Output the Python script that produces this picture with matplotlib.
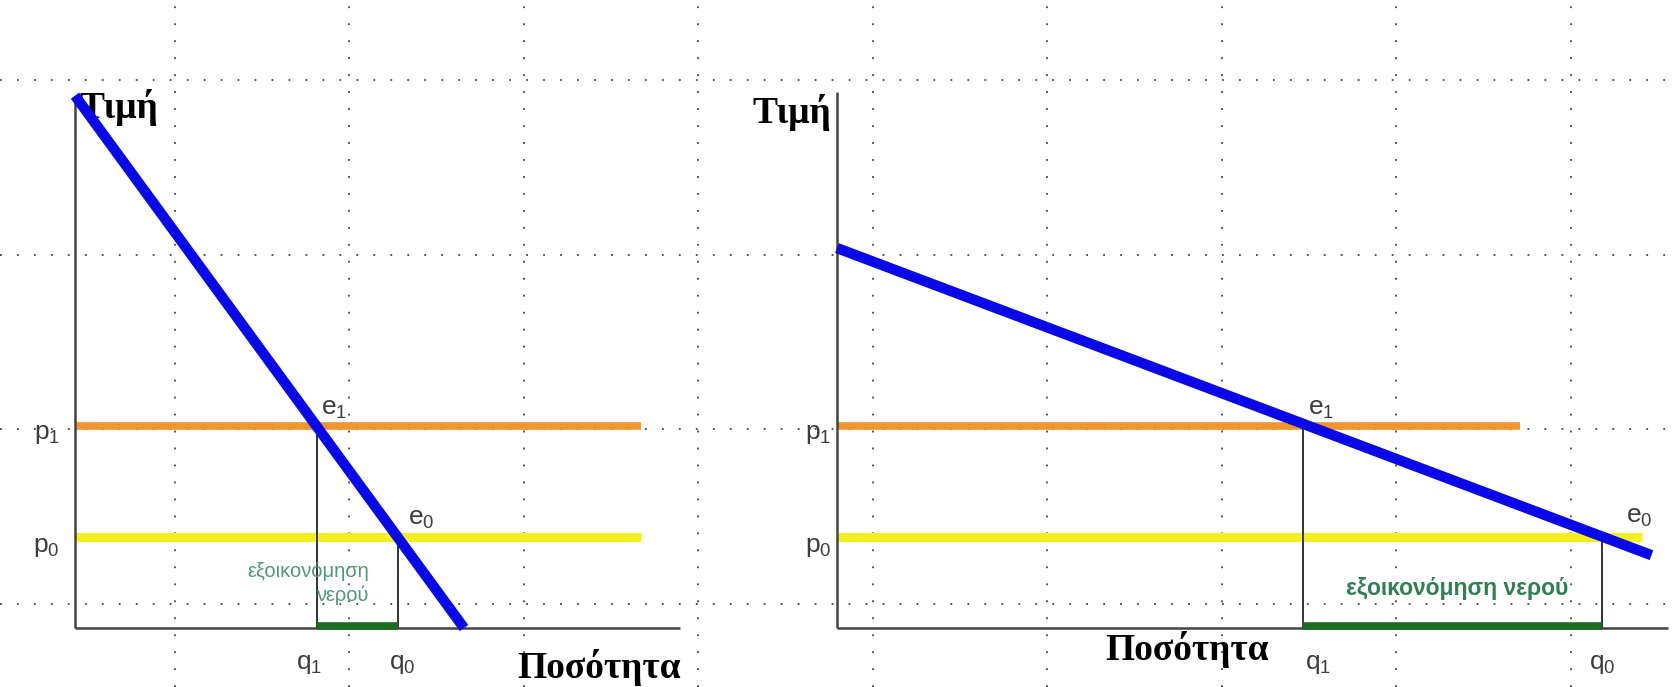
import matplotlib
matplotlib.use("Agg")
import matplotlib.pyplot as plt
import numpy as np

# Figure geometry (pixels at dpi 100)
FW, FH, DPI = 1673, 687, 100
U = 45.5  # pixels per data unit, same for both panels

# Shared price levels
p0 = 2.0
p1 = 4.45

# Left panel: steep (inelastic-looking) demand
left_demand_q = [0.0, 8.55]
left_demand_p = [11.7, 0.0]
left_q1, left_q0 = 5.32, 7.1
left_price_end = 12.45
left_axis_x_end, left_axis_y_top = 13.3, 11.67

# Right panel: flat (elastic) demand
right_demand_q = [0.0, 17.9]
right_demand_p = [8.35, 1.6]
right_q1, right_q0 = 10.24, 16.81
right_p1_end, right_p0_end = 15.0, 17.7
right_axis_x_end, right_axis_y_top = 18.26, 11.78

BLUE = "#0808e8"
ORANGE = "#f0952c"
YELLOW = "#f4f020"
GREEN_BAR = "#1d6b22"
AXIS = "#444444"
LABEL = "#3c3c3c"

plt.rcParams["mathtext.fontset"] = "custom"
plt.rcParams["mathtext.rm"] = "Liberation Sans"
plt.rcParams["mathtext.default"] = "regular"

SANS = "Liberation Sans"
SERIF = "Liberation Serif"

fig = plt.figure(figsize=(FW / DPI, FH / DPI), dpi=DPI)
fig.patch.set_facecolor("white")

# Background dotted grid across the whole sheet
ax_bg = fig.add_axes([0, 0, 1, 1], zorder=0)
ax_bg.set_xlim(0, FW)
ax_bg.set_ylim(FH, 0)
ax_bg.set_xticks(np.arange(175, FW, 174.5))
ax_bg.set_yticks(np.arange(80, FH, 174.5))
ax_bg.grid(True, color="#444444", linewidth=1.3, linestyle=(0, (1, 8.4)))
ax_bg.tick_params(length=0, labelbottom=False, labelleft=False)
for s in ax_bg.spines.values():
    s.set_visible(False)


def panel(ox, oy, xmax, ymax):
    ax = fig.add_axes(
        [ox / FW, (FH - oy) / FH, xmax * U / FW, ymax * U / FH], zorder=2
    )
    ax.set_xlim(0, xmax)
    ax.set_ylim(0, ymax)
    ax.patch.set_alpha(0)
    ax.axis("off")
    return ax


def draw_panel(ax, demand_q, demand_p, q1, q0, p1_end, p0_end, x_end, y_top):
    kw = dict(clip_on=False, solid_capstyle="butt")
    # axes
    ax.plot([0, 0], [0, y_top], color=AXIS, lw=1.8, zorder=3, **kw)
    ax.plot([0, x_end], [0, 0], color=AXIS, lw=1.8, zorder=3, **kw)
    # price lines
    ax.plot([0, p1_end], [p1, p1], color=ORANGE, lw=5.5, zorder=2, **kw)
    ax.plot([0, p0_end], [p0, p0], color=YELLOW, lw=6.5, zorder=2, **kw)
    # drop lines to quantity axis
    ax.plot([q1, q1], [0, p1], color="#333333", lw=1.4, zorder=3, **kw)
    ax.plot([q0, q0], [0, p0], color="#333333", lw=1.4, zorder=3, **kw)
    # water saving segment
    ax.plot([q1, q0], [0.04, 0.04], color=GREEN_BAR, lw=5.5, zorder=4, **kw)
    # demand
    ax.plot(demand_q, demand_p, color=BLUE, lw=7.5, zorder=5, **kw)


ax_l = panel(75, 628, 14, 12)
draw_panel(ax_l, left_demand_q, left_demand_p, left_q1, left_q0,
           left_price_end, left_price_end, left_axis_x_end, left_axis_y_top)

ax_r = panel(837, 628, 18.3, 12)
draw_panel(ax_r, right_demand_q, right_demand_p, right_q1, right_q0,
           right_p1_end, right_p0_end, right_axis_x_end, right_axis_y_top)

lab = dict(family=SANS, fontsize=19, color=LABEL, va="center")
serif = dict(family=SERIF, fontsize=27, fontweight="bold", va="center")

# Left labels
ax_l.text(0.1, 11.45, "Τιμή", ha="left", **serif)
ax_l.text(9.72, -0.86, "Ποσότητα", ha="left", **serif)
ax_l.text(-0.33, p1 - 0.18, "p$_1$", ha="right", **lab)
ax_l.text(-0.33, p0 - 0.22, "p$_0$", ha="right", **lab)
ax_l.text(left_q1 - 0.18, -0.79, "q$_1$", ha="center", **lab)
ax_l.text(left_q0 + 0.1, -0.79, "q$_0$", ha="center", **lab)
ax_l.text(left_q1 + 0.38, p1 + 0.36, "e$_1$", ha="center", **lab)
ax_l.text(left_q0 + 0.52, p0 + 0.39, "e$_0$", ha="center", **lab)
ax_l.text(left_q0 - 0.64, 0.99, "εξοικονόμηση\nνερού", family=SANS, fontsize=14.5,
          color="#4f9a75", ha="right", va="center", multialignment="right",
          linespacing=1.3)

# Right labels
ax_r.text(-0.13, 11.34, "Τιμή", ha="right", **serif)
ax_r.text(5.9, -0.48, "Ποσότητα", ha="left", **serif)
ax_r.text(-0.13, p1 - 0.18, "p$_1$", ha="right", **lab)
ax_r.text(-0.13, p0 - 0.22, "p$_0$", ha="right", **lab)
ax_r.text(right_q1 + 0.33, -0.79, "q$_1$", ha="center", **lab)
ax_r.text(right_q0 + 0.02, -0.79, "q$_0$", ha="center", **lab)
ax_r.text(right_q1 + 0.4, p1 + 0.36, "e$_1$", ha="center", **lab)
ax_r.text(right_q0 + 0.82, p0 + 0.44, "e$_0$", ha="center", **lab)
ax_r.text((right_q1 + right_q0) / 2 + 0.1, 0.86, "εξοικονόμηση νερού",
          family=SANS, fontsize=16.5, fontweight="bold", color="#2f7f55",
          ha="center", va="center")

fig.savefig("out.png", dpi=DPI, facecolor="white")
plt.close(fig)
